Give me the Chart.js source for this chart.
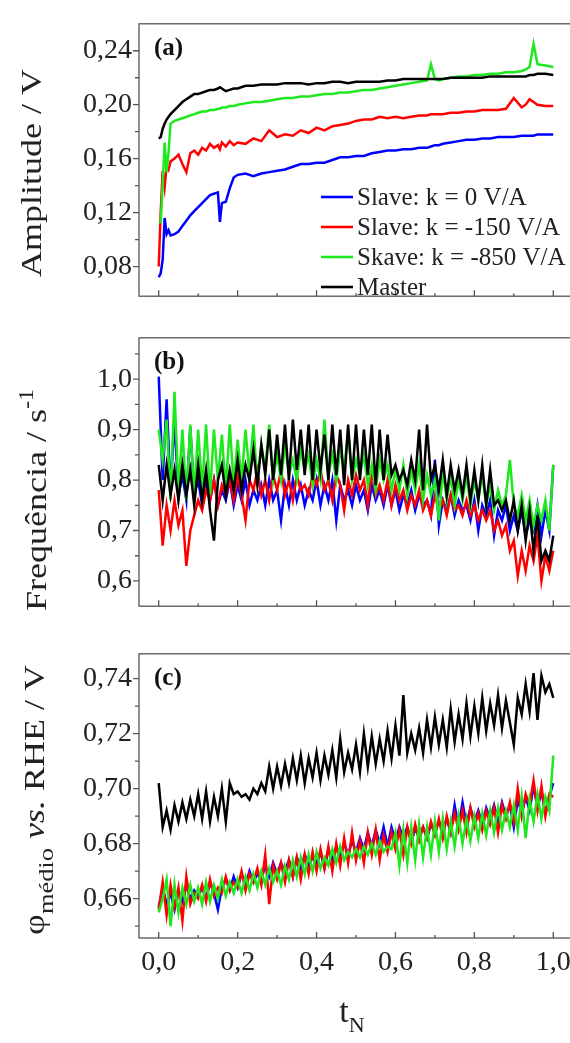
<!DOCTYPE html>
<html><head><meta charset="utf-8">
<script src="https://cdn.jsdelivr.net/npm/chart.js@4.4.1/dist/chart.umd.min.js"></script>
<style>
html,body{margin:0;padding:0;background:#fff;width:570px;height:1043px;overflow:hidden;position:relative}
canvas{position:absolute;left:0}
</style></head><body>
<canvas id="ca" width="600" height="320" style="top:0px;width:600px;height:320px"></canvas>
<canvas id="cb" width="600" height="316" style="top:314px;width:600px;height:316px"></canvas>
<canvas id="cc" width="600" height="413" style="top:630px;width:600px;height:413px"></canvas>
<script>
// ---------- labels ----------
const seriesNames = ['Slave: k = 0 V/A', 'Slave: k = -150 V/A', 'Skave: k = -850 V/A', 'Master'];
const seriesColors = ['#0000ff', '#ff0000', '#1ee81e', '#000000'];
const xMajor = [0, 0.2, 0.4, 0.6, 0.8, 1.0];
const xMinor = [0.1, 0.3, 0.5, 0.7, 0.9];
const yTicksA = [0.08, 0.12, 0.16, 0.20, 0.24];
const yMinorA = [0.10, 0.14, 0.18, 0.22];
const yTicksB = [0.6, 0.7, 0.8, 0.9, 1.0];
const yMinorB = [0.65, 0.75, 0.85, 0.95, 1.05];
const yTicksC = [0.66, 0.68, 0.70, 0.72, 0.74];
const yMinorC = [0.65, 0.67, 0.69, 0.71, 0.73];

// ---------- panel (a): amplitude ----------
const ampX = [
0,0.005,0.01,0.015,0.02,0.025,0.03,0.04,0.05,0.06,
0.07,0.08,0.09,0.1,0.11,0.12,0.13,0.14,0.15,0.155,
0.16,0.17,0.18,0.19,0.2,0.22,0.24,0.26,0.28,0.3,
0.32,0.34,0.36,0.38,0.4,0.42,0.44,0.46,0.48,0.5,
0.52,0.54,0.56,0.58,0.6,0.62,0.64,0.66,0.68,0.69,
0.7,0.71,0.72,0.74,0.76,0.78,0.8,0.82,0.84,0.86,
0.88,0.9,0.92,0.93,0.94,0.95,0.96,0.98,1.0];
const ampBlue = [
0.072,0.075,0.085,0.116,0.104,0.107,0.103,0.104,0.106,0.110,
0.114,0.118,0.121,0.124,0.127,0.130,0.133,0.134,0.135,0.113,
0.127,0.128,0.138,0.146,0.148,0.149,0.147,0.149,0.150,0.151,
0.152,0.154,0.156,0.156,0.157,0.157,0.159,0.161,0.161,0.162,
0.162,0.164,0.165,0.166,0.166,0.167,0.167,0.168,0.168,0.169,
0.170,0.170,0.171,0.172,0.173,0.174,0.174,0.175,0.175,0.176,
0.176,0.176,0.177,0.177,0.177,0.177,0.178,0.178,0.178];
const ampRed = [
0.080,0.120,0.151,0.139,0.155,0.152,0.158,0.160,0.163,0.156,
0.150,0.164,0.166,0.163,0.168,0.166,0.171,0.168,0.170,0.167,
0.172,0.169,0.173,0.170,0.172,0.171,0.175,0.173,0.181,0.176,
0.178,0.177,0.181,0.179,0.183,0.181,0.184,0.185,0.186,0.188,
0.189,0.189,0.191,0.190,0.191,0.190,0.191,0.192,0.192,0.193,
0.193,0.193,0.193,0.194,0.194,0.195,0.195,0.196,0.196,0.196,
0.197,0.205,0.198,0.200,0.204,0.202,0.200,0.199,0.199];
const ampGreen = [
0.113,0.113,0.140,0.172,0.150,0.165,0.186,0.188,0.189,0.190,
0.191,0.192,0.193,0.194,0.195,0.195,0.196,0.196,0.197,0.197,
0.198,0.198,0.199,0.199,0.200,0.201,0.202,0.202,0.203,0.204,
0.205,0.205,0.206,0.206,0.207,0.208,0.208,0.209,0.209,0.210,
0.211,0.211,0.212,0.213,0.214,0.215,0.216,0.217,0.218,0.230,
0.219,0.218,0.219,0.220,0.221,0.221,0.222,0.222,0.223,0.223,
0.224,0.224,0.225,0.226,0.228,0.245,0.230,0.229,0.228];
const ampBlack = [
0.175,0.176,0.182,0.186,0.189,0.191,0.193,0.196,0.199,0.202,
0.204,0.206,0.208,0.208,0.209,0.210,0.211,0.211,0.212,0.213,
0.212,0.210,0.211,0.212,0.212,0.214,0.214,0.215,0.215,0.215,
0.216,0.216,0.216,0.215,0.216,0.216,0.217,0.217,0.216,0.217,
0.217,0.217,0.217,0.218,0.218,0.219,0.219,0.219,0.219,0.219,
0.219,0.219,0.219,0.220,0.220,0.220,0.220,0.220,0.221,0.221,
0.221,0.221,0.221,0.221,0.222,0.222,0.223,0.223,0.222];

// ---------- panels (b) and (c): common normalised time ----------
const tX = [
0,0.01,0.02,0.03,0.04,0.05,0.06,0.07,0.08,0.09,
0.1,0.11,0.12,0.13,0.14,0.15,0.16,0.17,0.18,0.19,
0.2,0.21,0.22,0.23,0.24,0.25,0.26,0.27,0.28,0.29,
0.3,0.31,0.32,0.33,0.34,0.35,0.36,0.37,0.38,0.39,
0.4,0.41,0.42,0.43,0.44,0.45,0.46,0.47,0.48,0.49,
0.5,0.51,0.52,0.53,0.54,0.55,0.56,0.57,0.58,0.59,
0.6,0.61,0.62,0.63,0.64,0.65,0.66,0.67,0.68,0.69,
0.7,0.71,0.72,0.73,0.74,0.75,0.76,0.77,0.78,0.79,
0.8,0.81,0.82,0.83,0.84,0.85,0.86,0.87,0.88,0.89,
0.9,0.91,0.92,0.93,0.94,0.95,0.96,0.97,0.98,0.99,
1.0];

// panel (b): frequency
const freqBlue = [
1.005,0.80,0.96,0.78,0.92,0.77,0.81,0.76,0.905,0.77,
0.80,0.75,0.79,0.76,0.80,0.75,0.78,0.76,0.80,0.75,
0.79,0.76,0.80,0.75,0.78,0.76,0.79,0.75,0.80,0.76,
0.78,0.72,0.79,0.75,0.80,0.76,0.79,0.75,0.78,0.76,
0.80,0.75,0.79,0.76,0.80,0.72,0.79,0.76,0.78,0.75,
0.79,0.76,0.78,0.74,0.79,0.76,0.78,0.75,0.79,0.75,
0.78,0.74,0.77,0.75,0.78,0.74,0.77,0.75,0.76,0.73,
0.84,0.71,0.76,0.74,0.77,0.73,0.76,0.74,0.75,0.72,
0.76,0.70,0.75,0.73,0.76,0.69,0.74,0.72,0.75,0.70,
0.73,0.70,0.74,0.69,0.72,0.70,0.75,0.69,0.74,0.70,
0.83];
const freqRed = [
0.78,0.67,0.75,0.70,0.76,0.71,0.74,0.63,0.70,0.73,
0.76,0.74,0.78,0.76,0.80,0.75,0.79,0.77,0.80,0.76,
0.81,0.77,0.72,0.80,0.78,0.82,0.77,0.80,0.76,0.81,
0.78,0.82,0.77,0.80,0.76,0.81,0.78,0.79,0.77,0.81,
0.79,0.82,0.78,0.80,0.76,0.81,0.79,0.74,0.80,0.77,
0.81,0.78,0.80,0.75,0.82,0.77,0.79,0.76,0.80,0.75,
0.79,0.76,0.78,0.74,0.77,0.75,0.78,0.74,0.76,0.73,
0.77,0.74,0.76,0.73,0.77,0.74,0.75,0.73,0.76,0.73,
0.75,0.72,0.74,0.72,0.74,0.70,0.72,0.69,0.71,0.66,
0.68,0.61,0.66,0.62,0.67,0.64,0.69,0.60,0.65,0.62,
0.66];
const freqGreen = [
0.90,0.84,0.92,0.76,0.975,0.78,0.90,0.76,0.91,0.77,
0.90,0.78,0.91,0.77,0.90,0.80,0.89,0.78,0.91,0.79,
0.88,0.80,0.90,0.81,0.91,0.79,0.87,0.82,0.91,0.80,
0.85,0.80,0.87,0.81,0.84,0.80,0.86,0.82,0.85,0.79,
0.84,0.80,0.92,0.81,0.85,0.80,0.86,0.82,0.90,0.80,
0.84,0.81,0.85,0.79,0.83,0.78,0.84,0.80,0.83,0.78,
0.82,0.78,0.83,0.77,0.82,0.78,0.83,0.76,0.81,0.77,
0.80,0.72,0.82,0.76,0.81,0.75,0.80,0.76,0.81,0.75,
0.80,0.76,0.81,0.75,0.79,0.74,0.78,0.75,0.77,0.84,
0.75,0.73,0.77,0.72,0.76,0.71,0.75,0.72,0.76,0.70,
0.83];
const freqBlack = [
0.83,0.76,0.83,0.77,0.82,0.76,0.83,0.77,0.82,0.75,
0.83,0.76,0.82,0.74,0.68,0.80,0.83,0.77,0.82,0.78,
0.84,0.78,0.83,0.80,0.86,0.79,0.87,0.81,0.90,0.80,
0.89,0.81,0.91,0.80,0.92,0.82,0.90,0.81,0.91,0.80,
0.90,0.82,0.89,0.80,0.91,0.81,0.90,0.79,0.91,0.80,
0.91,0.80,0.90,0.81,0.91,0.79,0.90,0.80,0.89,0.81,
0.83,0.80,0.82,0.79,0.84,0.80,0.90,0.78,0.91,0.80,
0.83,0.78,0.84,0.77,0.83,0.78,0.82,0.77,0.83,0.76,
0.82,0.76,0.83,0.75,0.82,0.75,0.76,0.74,0.76,0.72,
0.76,0.70,0.75,0.68,0.74,0.66,0.73,0.64,0.66,0.64,
0.69];

// panel (c): mean potential vs RHE
const potBlue = [
0.657,0.664,0.658,0.662,0.656,0.663,0.659,0.665,0.660,0.663,
0.661,0.664,0.660,0.666,0.662,0.656,0.664,0.667,0.663,0.668,
0.664,0.669,0.665,0.670,0.666,0.669,0.667,0.672,0.668,0.673,
0.669,0.673,0.670,0.674,0.668,0.675,0.671,0.676,0.672,0.675,
0.673,0.677,0.671,0.678,0.674,0.679,0.675,0.680,0.676,0.681,
0.677,0.682,0.678,0.684,0.679,0.685,0.680,0.686,0.679,0.686,
0.681,0.686,0.682,0.686,0.681,0.685,0.683,0.686,0.682,0.687,
0.684,0.688,0.685,0.689,0.684,0.694,0.686,0.695,0.687,0.693,
0.688,0.692,0.687,0.693,0.689,0.694,0.688,0.695,0.690,0.694,
0.686,0.696,0.691,0.697,0.692,0.701,0.693,0.699,0.691,0.697,
0.702];
const potRed = [
0.656,0.666,0.654,0.665,0.657,0.664,0.652,0.668,0.658,0.662,
0.660,0.665,0.659,0.667,0.661,0.664,0.662,0.668,0.663,0.666,
0.664,0.670,0.663,0.669,0.666,0.671,0.665,0.676,0.658,0.672,
0.667,0.673,0.666,0.674,0.668,0.675,0.667,0.676,0.669,0.677,
0.670,0.678,0.671,0.679,0.670,0.680,0.672,0.682,0.673,0.684,
0.674,0.681,0.673,0.684,0.676,0.685,0.674,0.683,0.677,0.684,
0.678,0.685,0.676,0.686,0.680,0.687,0.681,0.686,0.682,0.688,
0.683,0.689,0.682,0.690,0.684,0.691,0.685,0.692,0.684,0.693,
0.686,0.691,0.685,0.692,0.687,0.693,0.684,0.694,0.689,0.695,
0.688,0.700,0.690,0.698,0.694,0.703,0.692,0.701,0.690,0.698,
0.697];
const potGreen = [
0.655,0.660,0.667,0.650,0.665,0.655,0.664,0.658,0.665,0.659,
0.664,0.658,0.666,0.659,0.665,0.660,0.667,0.661,0.666,0.662,
0.667,0.662,0.668,0.663,0.669,0.664,0.670,0.665,0.671,0.666,
0.670,0.665,0.672,0.667,0.674,0.668,0.675,0.669,0.676,0.670,
0.677,0.671,0.675,0.672,0.678,0.673,0.679,0.674,0.677,0.675,
0.678,0.675,0.679,0.676,0.680,0.676,0.681,0.677,0.679,0.678,
0.684,0.672,0.685,0.673,0.686,0.674,0.687,0.675,0.686,0.676,
0.688,0.677,0.689,0.678,0.688,0.679,0.690,0.680,0.689,0.681,
0.690,0.682,0.691,0.683,0.692,0.684,0.693,0.685,0.692,0.686,
0.694,0.685,0.697,0.682,0.696,0.688,0.698,0.689,0.697,0.692,
0.712];
const potBlack = [
0.702,0.686,0.692,0.685,0.694,0.688,0.695,0.689,0.696,0.690,
0.698,0.689,0.699,0.688,0.697,0.690,0.700,0.688,0.702,0.698,
0.699,0.697,0.698,0.696,0.700,0.698,0.702,0.699,0.708,0.700,
0.708,0.701,0.709,0.702,0.711,0.703,0.712,0.702,0.711,0.704,
0.713,0.703,0.712,0.705,0.714,0.704,0.718,0.706,0.713,0.707,
0.716,0.706,0.720,0.708,0.719,0.709,0.718,0.710,0.721,0.711,
0.723,0.712,0.734,0.713,0.720,0.714,0.722,0.713,0.725,0.715,
0.726,0.716,0.725,0.715,0.729,0.717,0.727,0.718,0.731,0.719,
0.730,0.720,0.733,0.721,0.731,0.723,0.734,0.722,0.732,0.724,
0.716,0.733,0.727,0.738,0.728,0.742,0.725,0.741,0.735,0.738,
0.733];

// ---------- helpers ----------
Chart.defaults.font.family = '"Liberation Serif", "Times New Roman", serif';
Chart.defaults.color = '#222';
const SERIF = '"Liberation Serif", "Times New Roman", serif';

function pts(xs, ys) { return ys.map((v, i) => ({x: xs[i], y: v})); }
function makeSets(xs, arrs) {
  const drawOrder = [3, 2, 1, 0];
  return arrs.map((a, i) => ({
    label: seriesNames[i], data: pts(xs, a), borderColor: seriesColors[i],
    borderWidth: 2.5, pointRadius: 0, tension: 0, order: drawOrder[i], fill: false
  }));
}
function comma(v, d) { return Number(v).toFixed(d).replace('.', ','); }

function richText(ctx, segs, cx, cy, rotate, stretch) {
  ctx.save();
  ctx.translate(cx, cy);
  if (rotate) ctx.rotate(-Math.PI / 2);
  ctx.scale(stretch || 1, 1);
  let total = 0;
  segs.forEach(s => { ctx.font = s.font; s.w = ctx.measureText(s.t).width; total += s.w; });
  let x = -total / 2;
  ctx.textBaseline = 'alphabetic';
  ctx.textAlign = 'left';
  ctx.fillStyle = '#222';
  segs.forEach(s => { ctx.font = s.font; ctx.fillText(s.t, x, s.dy || 0); x += s.w; });
  ctx.restore();
}

const decor = {
  id: 'decor',
  afterDraw(chart, args, o) {
    const {ctx, chartArea: a} = chart;
    const xs = chart.scales.x, ys = chart.scales.y;
    ctx.save();
    ctx.strokeStyle = '#555'; ctx.lineWidth = 1.3;
    ctx.beginPath();
    xMajor.forEach(v => { const p = xs.getPixelForValue(v); ctx.moveTo(p, a.bottom); ctx.lineTo(p, a.bottom - 6); });
    xMinor.forEach(v => { const p = xs.getPixelForValue(v); ctx.moveTo(p, a.bottom); ctx.lineTo(p, a.bottom - 3); });
    o.yMajor.forEach(v => { const p = ys.getPixelForValue(v); ctx.moveTo(a.left, p); ctx.lineTo(a.left - 6, p); });
    o.yMinor.forEach(v => { const p = ys.getPixelForValue(v); ctx.moveTo(a.left, p); ctx.lineTo(a.left - 4, p); });
    ctx.stroke();
    ctx.strokeRect(a.left, a.top, a.right - a.left, a.bottom - a.top);
    // panel letter
    ctx.fillStyle = '#111';
    ctx.font = 'bold 25px ' + SERIF;
    ctx.textBaseline = 'middle'; ctx.textAlign = 'left';
    ctx.fillText(o.letter, a.left + 15, a.top + 25);
    // axis title
    richText(ctx, o.title, o.titleX, o.titleY, true, 1.2);
    if (o.xTitle) richText(ctx, o.xTitle, o.xTitleX, o.xTitleY, false, 1);
    // legend
    if (o.legend) {
      const ds = chart.data.datasets;
      ctx.font = '25px ' + SERIF;
      ctx.textBaseline = 'middle';
      ds.forEach((d, i) => {
        const y = 197 + i * 30;
        ctx.strokeStyle = d.borderColor; ctx.lineWidth = 2.6;
        ctx.beginPath(); ctx.moveTo(321, y); ctx.lineTo(353, y); ctx.stroke();
        ctx.fillStyle = '#222';
        ctx.fillText(d.label, 357, y + 1);
      });
    }
    ctx.restore();
  }
};

function yAxis(min, max, ticks, dec) {
  return {
    type: 'linear', min: min, max: max,
    afterFit(s) { s.width = 139; },
    afterBuildTicks(s) { s.ticks = ticks.map(v => ({value: v})); },
    grid: {display: false, drawTicks: false},
    border: {display: false},
    ticks: {padding: 7, font: {size: 28}, color: '#222', callback: v => comma(v, dec)}
  };
}
function xAxis(show) {
  const ax = {
    type: 'linear', min: -0.05, max: 1.05, display: show,
    afterBuildTicks(s) { s.ticks = xMajor.map(v => ({value: v})); },
    grid: {display: false, drawTicks: false},
    border: {display: false},
    ticks: {padding: 8, font: {size: 28}, color: '#222', maxRotation: 0, callback: v => comma(v, 1)}
  };
  if (show) ax.afterFit = function(s) { s.height = 105; };
  return ax;
}
function baseOpts(pad, y, xShow, deco) {
  return {
    responsive: false, animation: false, devicePixelRatio: 1,
    layout: {padding: pad},
    plugins: {legend: {display: false}, tooltip: {enabled: false}, decor: deco},
    scales: {x: xAxis(xShow), y: y}
  };
}

const TF = '30px ' + SERIF;
const TFs = '20px ' + SERIF;

new Chart(document.getElementById('ca'), {
  type: 'line',
  data: {datasets: makeSets(ampX, [ampBlue, ampRed, ampGreen, ampBlack])},
  options: baseOpts({top: 8, bottom: 9, left: 0, right: 27}, yAxis(0.058, 0.26, yTicksA, 2), false, {
    letter: '(a)', yMajor: yTicksA, yMinor: yMinorA, legend: true,
    title: [{t: 'Amplitude / V', font: TF}], titleX: 41, titleY: 173
  }),
  plugins: [decor]
});

new Chart(document.getElementById('cb'), {
  type: 'line',
  data: {datasets: makeSets(tX, [freqBlue, freqRed, freqGreen, freqBlack])},
  options: baseOpts({top: 8, bottom: 5, left: 0, right: 27}, yAxis(0.55, 1.082, yTicksB, 1), false, {
    letter: '(b)', yMajor: yTicksB, yMinor: yMinorB,
    title: [{t: 'Frequência / s', font: TF}, {t: '-1', font: TFs, dy: -13}], titleX: 46, titleY: 186
  }),
  plugins: [decor]
});

new Chart(document.getElementById('cc'), {
  type: 'line',
  data: {datasets: makeSets(tX, [potBlue, potRed, potGreen, potBlack])},
  options: baseOpts({top: 7, bottom: 0, left: 0, right: 27}, yAxis(0.6457, 0.749, yTicksC, 2), true, {
    letter: '(c)', yMajor: yTicksC, yMinor: yMinorC,
    title: [{t: 'φ', font: TF}, {t: 'médio', font: '22px ' + SERIF, dy: 9}, {t: ' vs.', font: 'italic ' + TF}, {t: ' RHE / V', font: TF}],
    titleX: 44, titleY: 170,
    xTitle: [{t: 't', font: '34px ' + SERIF}, {t: 'N', font: '22px ' + SERIF, dy: 10}], xTitleX: 352, xTitleY: 392
  }),
  plugins: [decor]
});
</script>
</body></html>
